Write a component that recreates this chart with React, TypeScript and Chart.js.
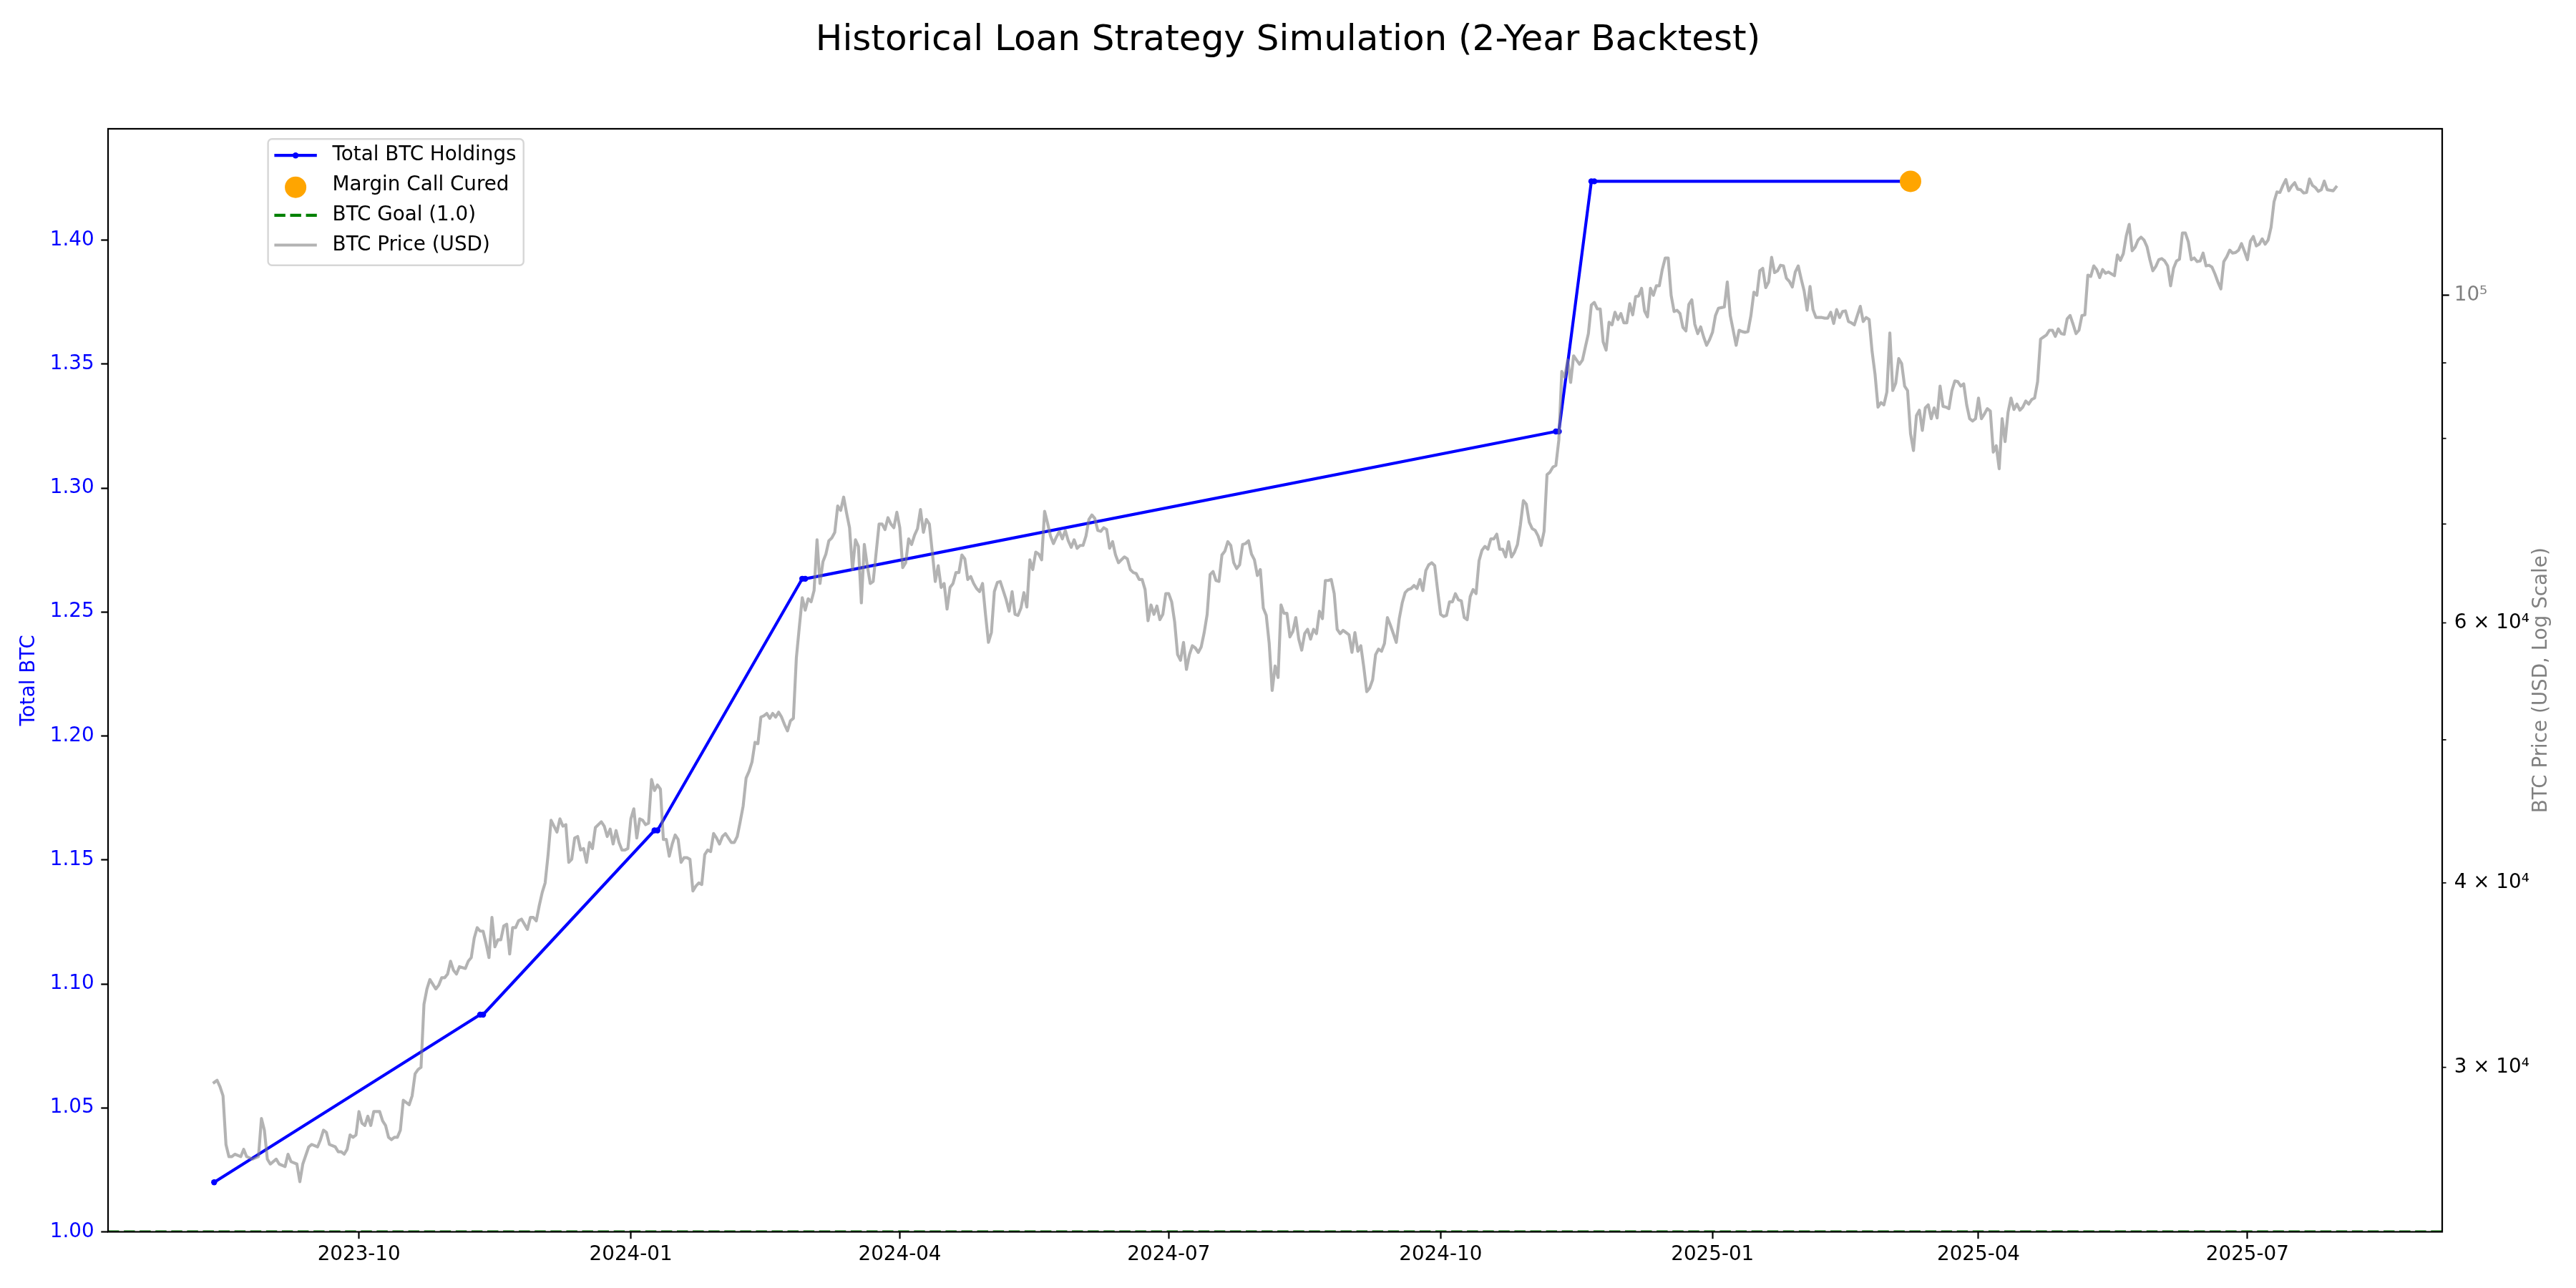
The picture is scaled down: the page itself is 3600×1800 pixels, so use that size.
import React, { useEffect, useRef } from 'react';
import { Chart, registerables } from 'chart.js';

Chart.register(...registerables);

// ---------------- DATA ----------------
// Day 0 of the backtest (UTC); all day numbers below count from it.
const START_UTC = Date.UTC(2023, 7, 13);
const DAY_MS = 86400000;

// BTC daily close in thousands of USD, one entry per day from day 0 (null = not read)
const priceDailyK: (number | null)[] = [
  29.3, 29.4, 29.1, 28.7, 26.6, 26.1, 26.1, 26.2, null, 26.1,
  26.4, 26.1, null, 26.0, null, 26.1, 27.7, 27.2, 26.0, 25.8,
  null, 26.0, 25.8, null, 25.7, 26.2, 25.9, null, 25.8, 25.1,
  25.8, null, 26.5, 26.6, null, 26.5, 26.8, 27.2, 27.1, 26.6,
  null, 26.5, 26.3, 26.3, 26.2, 26.4, 27.0, 26.9, 27.0, 28.0,
  27.5, 27.4, 27.8, 27.4, 28.0, null, 28.0, 27.6, 27.4, 26.9,
  26.8, 26.9, 26.9, 27.2, 28.5, null, 28.3, 28.7, 29.7, 29.9,
  30.0, 33.1, 33.9, 34.4, null, 33.9, 34.1, 34.5, 34.5, 34.7,
  35.4, 34.9, 34.7, 35.1, null, 35.0, 35.4, 35.6, 36.7, 37.3,
  37.1, 37.1, 36.4, 35.6, 37.9, 36.2, 36.6, 36.6, 37.4, 37.5,
  35.8, 37.3, 37.3, 37.7, 37.8, 37.5, 37.2, 37.9, 37.9, 37.7,
  38.6, 39.4, 40.0, 41.8, 44.1, null, 43.3, 44.2, 43.7, 43.8,
  41.3, 41.5, 42.9, 43.0, 42.1, 42.2, 41.3, 42.6, 42.2, 43.6,
  43.8, 44.0, 43.7, 43.0, 43.5, 42.5, 43.4, 42.6, 42.1, 42.1,
  42.2, 44.2, 44.9, 42.9, 44.2, 44.1, 43.8, 43.9, 47.0, 46.2,
  46.6, 46.3, 42.8, 42.8, 41.7, 42.5, 43.1, 42.8, 41.3, 41.6,
  41.6, 41.5, 39.5, 39.8, 40.0, 39.9, 41.8, 42.1, 42.0, 43.2,
  42.9, 42.5, 43.0, 43.2, 42.9, 42.6, 42.6, 43.0, 44.0, 45.1,
  47.1, 47.6, 48.3, 49.8, 49.7, 51.8, 51.9, 52.1, 51.7, 52.1,
  51.8, 52.2, 51.8, 51.2, 50.7, 51.5, 51.7, 56.8, 59.6, 62.4,
  61.2, 62.3, 62.0, 63.1, 68.3, 63.8, 66.0, 66.8, 68.2, 68.5,
  69.1, 72.0, 71.5, 73.0, 71.2, 69.6, 65.2, 68.3, 67.6, 61.9,
  67.8, 65.6, 63.8, 64.0, null, 70.0, 70.0, 69.4, 70.7, 70.0,
  69.6, 71.3, 69.6, 65.4, 65.9, 68.4, 67.8, 68.8, 69.5, 71.6,
  69.1, 70.5, 70.0, 67.0, 64.0, 65.6, 63.4, 63.8, 61.3, 63.4,
  63.8, 64.9, 64.9, 66.7, 66.3, 64.2, 64.5, 63.8, 63.3, 63.0,
  63.8, 60.8, 58.2, 59.1, 63.0, 63.9, 64.0, 63.1, 62.2, 61.1,
  63.0, 60.8, 60.7, 61.4, 62.9, 61.5, 66.2, 65.2, 67.0, 66.8,
  66.2, 71.4, 70.1, 68.7, 67.9, 68.6, 69.2, 68.4, 69.3, 68.2,
  67.5, 68.3, 67.4, 67.7, 67.7, 68.7, 70.5, 71.0, 70.6, 69.3,
  69.2, 69.6, 69.4, 67.4, 68.1, 66.7, 65.9, 66.2, 66.5, 66.3,
  65.2, 64.9, 64.8, 64.2, 64.2, 63.2, 60.2, 61.7, 60.8, 61.6,
  60.3, 60.8, 62.8, 62.8, 62.0, 60.1, 57.1, 56.6, 58.2, 55.8,
  57.1, 57.9, 57.7, 57.3, 57.8, 59.1, 60.8, 64.7, 65.0, 64.1,
  64.0, 66.7, 67.1, 68.1, 67.7, 65.9, 65.3, 65.7, 67.8, 67.9,
  68.2, 66.8, 66.2, 64.6, 65.2, 61.4, 60.7, 58.1, 54.0, 56.1,
  55.1, 61.7, 60.9, 60.9, 58.7, 59.2, 60.5, 58.5, 57.5, 59.0,
  59.4, 58.5, 59.4, 59.0, 61.1, 60.4, 64.1, 64.1, 64.2, 62.8,
  59.4, 59.0, 59.3, 59.1, 58.9, 57.3, 59.1, 57.4, 57.9, 56.0,
  53.9, 54.2, 54.9, 57.1, 57.6, 57.4, 58.1, 60.5, 59.8, 59.0,
  58.2, 60.4, 61.9, 62.9, 63.2, 63.3, 63.6, 63.3, 64.2, 63.1,
  65.1, 65.7, 65.9, 65.6, 63.1, 60.8, 60.6, 60.7, 62.0, 62.0,
  62.8, 62.2, 62.1, 60.5, 60.3, 62.5, 63.2, 62.8, 66.1, 67.2,
  67.6, 67.3, 68.4, 68.4, 68.9, 67.3, 67.3, 66.5, 68.1, 66.5,
  67.0, 67.8, 69.9, 72.6, 72.2, 70.2, 69.5, 69.3, 68.7, 67.7,
  69.2, 75.6, 75.9, 76.5, 76.7, 79.8, 88.8, 88.0, 90.4, 87.3,
  91.0, 90.4, 89.8, 90.4, 92.3, 94.2, 98.5, 98.9, 97.9, 97.9,
  93.0, 91.8, 95.9, 95.5, 97.4, 96.3, 97.2, 95.8, 95.8, 98.7,
  97.0, 99.8, 99.9, 101.1, 97.6, 96.7, 101.1, 100.0, 101.5, 101.5,
  104.1, 106.0, 106.0, 100.0, 97.5, 97.7, 97.2, 95.1, 94.6, 98.6,
  99.3, 95.6, 94.2, 95.2, 93.7, 92.5, 93.3, 94.4, 96.9, 98.0,
  98.1, 98.2, 102.1, 96.9, 94.7, 92.5, 94.7, 94.5, 94.4, 94.5,
  96.9, 100.5, 100.0, 103.9, 104.3, 101.2, 102.1, 106.1, 103.6, 103.9,
  104.8, 104.7, 102.7, 102.2, 101.3, 103.7, 104.7, 102.6, 100.7, 97.7,
  101.4, 97.8, 96.6, 96.6, 96.6, 96.5, 96.5, 97.4, 95.7, 97.8,
  96.6, 97.5, 97.6, 96.0, 95.8, 95.5, 96.9, 98.3, 96.0, 96.6,
  96.3, 91.6, 88.4, 84.0, 84.6, 84.3, 86.0, 94.3, 86.2, 87.2,
  90.6, 89.9, 86.8, 86.2, 80.6, 78.5, 82.9, 83.6, 81.0, 83.9,
  84.3, 82.5, 83.9, 82.6, 86.8, 84.1, 84.0, 83.8, 86.2, 87.5,
  87.4, 86.8, 87.1, 84.3, 82.5, 82.2, 82.5, 85.2, 82.5, 83.1,
  83.8, 83.5, 78.3, 79.1, 76.3, 82.5, 79.6, 83.3, 85.2, 83.7,
  84.4, 83.6, 84.0, 84.8, 84.4, 85.0, 85.2, 87.4, 93.4, 93.7,
  94.0, 94.7, 94.7, 93.8, 94.9, 94.2, 94.1, 96.4, 96.9, 95.6,
  94.2, 94.7, 96.9, 97.0, 103.2, 103.0, 104.7, 104.1, 102.8, 104.1,
  103.5, 103.7, 103.4, 103.1, 106.5, 105.6, 106.7, 109.7, 111.7, 107.2,
  107.8, 109.0, 109.5, 109.0, 107.9, 105.7, 103.9, 104.6, 105.7, 105.9,
  105.5, 104.7, 101.5, 104.3, 105.5, 105.8, 110.2, 110.2, 108.7, 105.7,
  106.0, 105.4, 105.5, 106.8, 104.7, 104.8, 104.5, 103.4, 102.1, 101.0,
  105.4, 106.2, 107.3, 106.8, 106.9, 107.3, 108.4, 107.1, 105.7, 108.8,
  109.6, 108.0, 108.3, 109.2, 108.3, 109.0, 111.2, 115.7, 117.5, 117.4,
  118.7, 119.8, 117.7, 118.6, 119.2, 118.0, 117.9, 117.3, 117.4, 119.9,
  118.7, 118.3, 117.6, 117.9, 119.5, 117.9, 117.8, 117.7, 118.4,
];

// Total BTC holdings (day, BTC)
const holdingDays = [0, 90, 91, 149, 150, 199, 200, 454, 455, 466, 467, 574];
const holdingBtc = [1.02, 1.0876, 1.0876, 1.1619, 1.1619, 1.2634, 1.2634, 1.3228, 1.3228, 1.4237, 1.4237, 1.4237];

// Margin call cured events
const cureDays = [574];
const cureBtc = [1.4237];

const goalBtc = 1.0;

// Axis ticks
const xTickMonths = ['2023-10', '2024-01', '2024-04', '2024-07', '2024-10', '2025-01', '2025-04', '2025-07'];
const btcTicks = [1.0, 1.05, 1.1, 1.15, 1.2, 1.25, 1.3, 1.35, 1.4];
const priceTicks = [30000, 40000, 50000, 60000, 70000, 80000, 90000, 100000];
const priceTickLabels = ['3 × 10⁴', '4 × 10⁴', '', '6 × 10⁴', '', '', '', '10⁵'];
const priceMajorTicks = [100000];

const TITLE = 'Historical Loan Strategy Simulation (2-Year Backtest)';
const LEFT_LABEL = 'Total BTC';
const RIGHT_LABEL = 'BTC Price (USD, Log Scale)';

// ---------------- STYLE / LAYOUT ----------------
const W = 3600;
const H = 1800;
const PT = 200 / 72;
const FS = 10 * PT;
const FAMILY = "'DejaVu Sans', 'Liberation Sans', sans-serif";
const AREA = { left: 151, right: 3413, top: 180, bottom: 1721.5 };

const monthToDay = (m: string) => {
  const [y, mo] = m.split('-').map(Number);
  return (Date.UTC(y, mo - 1, 1) - START_UTC) / DAY_MS;
};
const xTickDays = xTickMonths.map(monthToDay);

export default function App() {
  const ref = useRef<HTMLCanvasElement | null>(null);

  useEffect(() => {
    document.body.style.margin = '0';
    const canvas = ref.current;
    if (!canvas) return;

    const pricePoints = priceDailyK
      .map((v, i) => (v == null ? null : { x: i, y: v * 1000 }))
      .filter((p) => p !== null) as { x: number; y: number }[];
    const holdings = holdingDays.map((d, i) => ({ x: d, y: holdingBtc[i] }));
    const cures = cureDays.map((d, i) => ({ x: d, y: cureBtc[i] }));

    const firstDay = 0;
    const lastDay = priceDailyK.length - 1;
    const span = lastDay - firstDay;
    const xMin = firstDay - 0.05 * span;
    const xMax = lastDay + 0.05 * span;

    const btcMax = Math.max(...holdingBtc);
    const yMax = btcMax + 0.05 * (btcMax - goalBtc);

    const pv = pricePoints.map((p) => p.y);
    const lMin = Math.log10(Math.min(...pv));
    const lMax = Math.log10(Math.max(...pv));
    const lr = lMax - lMin;
    const y2Min = Math.pow(10, lMin - 0.05 * lr);
    const y2Max = Math.pow(10, lMax + 0.05 * lr);

    const font = { family: FAMILY, size: FS };
    const gridBase = {
      drawOnChartArea: false,
      drawTicks: true,
      tickLength: 3.5 * PT,
      tickWidth: 0.8 * PT,
      tickColor: 'black',
    };

    const decor = {
      id: 'decor',
      beforeDraw(chart: any) {
        const c = chart.ctx;
        c.save();
        c.fillStyle = 'white';
        c.fillRect(0, 0, chart.width, chart.height);
        c.restore();
      },
      afterDatasetsDraw(chart: any) {
        const c = chart.ctx;
        const a = chart.chartArea;
        c.save();
        // minor ticks on the log axis
        const y2 = chart.scales.y2;
        c.strokeStyle = 'black';
        c.lineWidth = 0.6 * PT;
        priceTicks.forEach((v) => {
          if (priceMajorTicks.includes(v)) return;
          const py = y2.getPixelForValue(v);
          c.beginPath();
          c.moveTo(a.right, py);
          c.lineTo(a.right + 2 * PT, py);
          c.stroke();
        });
        // frame
        c.lineWidth = 0.8 * PT;
        c.strokeRect(a.left, a.top, a.right - a.left, a.bottom - a.top);
        c.restore();
      },
      afterDraw(chart: any) {
        const c = chart.ctx;
        const a = chart.chartArea;
        c.save();
        // title
        c.fillStyle = 'black';
        c.font = `${18 * PT}px ${FAMILY}`;
        c.textAlign = 'center';
        c.textBaseline = 'middle';
        c.fillText(TITLE, W / 2, 57);
        // right axis label
        c.save();
        c.translate(3552, (a.top + a.bottom) / 2);
        c.rotate(-Math.PI / 2);
        c.fillStyle = 'gray';
        c.font = `${FS}px ${FAMILY}`;
        c.fillText(RIGHT_LABEL, 0, 0);
        c.restore();

        // legend
        const ds = chart.data.datasets;
        const byLabel = (l: string) => ds.find((d: any) => d.label === l);
        const entries = ['Total BTC Holdings', 'Margin Call Cured', 'BTC Goal (1.0)', 'BTC Price (USD)'];
        const bx = 374.6, by = 194.3, bw = 357.1, bh = 176.4;
        c.beginPath();
        (c as any).roundRect(bx, by, bw, bh, 0.2 * FS);
        c.fillStyle = 'rgba(255,255,255,0.8)';
        c.fill();
        c.lineWidth = 2.4;
        c.strokeStyle = 'rgba(204,204,204,0.8)';
        c.stroke();

        const hx0 = 383.4, hx1 = 442.8, hxc = (hx0 + hx1) / 2, tx = 464.6;
        const rows = [217.2, 259.2, 300.8, 342.5];
        entries.forEach((label, i) => {
          const d = byLabel(label);
          const y = rows[i];
          c.save();
          if (label === 'Margin Call Cured') {
            c.fillStyle = d.pointBackgroundColor;
            c.beginPath();
            c.arc(hxc, y + 2.5, d.pointRadius, 0, Math.PI * 2);
            c.fill();
          } else {
            c.strokeStyle = d.borderColor;
            c.lineWidth = d.borderWidth;
            c.setLineDash(d.borderDash || []);
            c.lineCap = 'butt';
            c.beginPath();
            c.moveTo(hx0, y);
            c.lineTo(hx1, y);
            c.stroke();
            if (d.pointRadius > 0) {
              c.fillStyle = d.pointBackgroundColor;
              c.beginPath();
              c.arc(hxc, y, d.pointRadius, 0, Math.PI * 2);
              c.fill();
            }
          }
          c.restore();
          c.fillStyle = 'black';
          c.font = `${FS}px ${FAMILY}`;
          c.textAlign = 'left';
          c.textBaseline = 'middle';
          c.fillText(label, tx, y);
        });
        c.restore();
      },
    };

    const chart = new Chart(canvas, {
      data: {
        datasets: [
          {
            type: 'scatter',
            label: 'Margin Call Cured',
            data: cures,
            xAxisID: 'x',
            yAxisID: 'y',
            pointRadius: 15,
            pointHoverRadius: 15,
            pointBackgroundColor: 'orange',
            pointBorderWidth: 0,
            borderColor: 'orange',
            showLine: false,
            order: 0,
          },
          {
            type: 'line',
            label: 'BTC Price (USD)',
            data: pricePoints,
            xAxisID: 'x',
            yAxisID: 'y2',
            borderColor: 'rgba(128,128,128,0.6)',
            borderWidth: 1.5 * PT,
            borderJoinStyle: 'round',
            borderCapStyle: 'square',
            pointRadius: 0,
            tension: 0,
            order: 1,
          },
          {
            type: 'line',
            label: 'Total BTC Holdings',
            data: holdings,
            xAxisID: 'x',
            yAxisID: 'y',
            borderColor: '#0000ff',
            borderWidth: 1.5 * PT,
            borderJoinStyle: 'round',
            pointRadius: 4.2,
            pointHoverRadius: 4.2,
            pointBackgroundColor: '#0000ff',
            pointBorderWidth: 0,
            tension: 0,
            order: 2,
          },
          {
            type: 'line',
            label: 'BTC Goal (1.0)',
            data: [
              { x: xMin, y: goalBtc },
              { x: xMax, y: goalBtc },
            ],
            xAxisID: 'x',
            yAxisID: 'y',
            borderColor: 'green',
            borderWidth: 1.5 * PT,
            borderDash: [3.7 * 1.5 * PT, 1.6 * 1.5 * PT],
            pointRadius: 0,
            clip: 0,
            order: 3,
          },
        ],
      } as any,
      options: {
        animation: false,
        responsive: false,
        devicePixelRatio: 1,
        events: [],
        layout: { padding: { top: AREA.top, left: 0, right: 0, bottom: 0 } },
        plugins: {
          legend: { display: false },
          title: { display: false },
          tooltip: { enabled: false },
        },
        scales: {
          x: {
            type: 'linear',
            position: 'bottom',
            min: xMin,
            max: xMax,
            afterBuildTicks: (s: any) => {
              s.ticks = xTickDays.map((v) => ({ value: v }));
            },
            afterFit: (s: any) => {
              s.height = H - AREA.bottom;
            },
            ticks: {
              autoSkip: false,
              maxRotation: 0,
              minRotation: 0,
              color: 'black',
              font,
              padding: 6,
              callback: (v: any) => {
                const i = xTickDays.indexOf(Number(v));
                return i >= 0 ? xTickMonths[i] : '';
              },
            },
            grid: gridBase,
            border: { display: false },
          },
          y: {
            type: 'linear',
            position: 'left',
            min: goalBtc,
            max: yMax,
            afterBuildTicks: (s: any) => {
              s.ticks = btcTicks.map((v) => ({ value: v }));
            },
            afterFit: (s: any) => {
              s.width = AREA.left;
            },
            ticks: {
              autoSkip: false,
              color: 'blue',
              font,
              padding: 3.5 * PT,
              callback: (v: any) => Number(v).toFixed(2),
            },
            grid: gridBase,
            border: { display: false },
            title: {
              display: true,
              text: LEFT_LABEL,
              color: 'blue',
              font,
              padding: { top: 24.3, bottom: 0 },
            },
          },
          y2: {
            type: 'logarithmic',
            position: 'right',
            min: y2Min,
            max: y2Max,
            afterBuildTicks: (s: any) => {
              s.ticks = priceTicks.map((v) => ({ value: v }));
            },
            afterFit: (s: any) => {
              s.width = W - AREA.right;
            },
            ticks: {
              autoSkip: false,
              font,
              padding: 7,
              color: (ctx: any) =>
                ctx.tick && priceMajorTicks.includes(ctx.tick.value) ? 'gray' : 'black',
              callback: (v: any) => {
                const i = priceTicks.indexOf(Number(v));
                return i >= 0 ? priceTickLabels[i] : '';
              },
            },
            grid: {
              ...gridBase,
              tickColor: (ctx: any) =>
                ctx.tick && priceMajorTicks.includes(ctx.tick.value) ? 'black' : 'rgba(0,0,0,0)',
            },
            border: { display: false },
          },
        },
      } as any,
      plugins: [decor],
    });

    return () => {
      chart.destroy();
    };
  }, []);

  return (
    <div style={{ width: W, height: H, background: 'white' }}>
      <canvas ref={ref} width={W} height={H} style={{ display: 'block', width: W, height: H }} />
    </div>
  );
}
